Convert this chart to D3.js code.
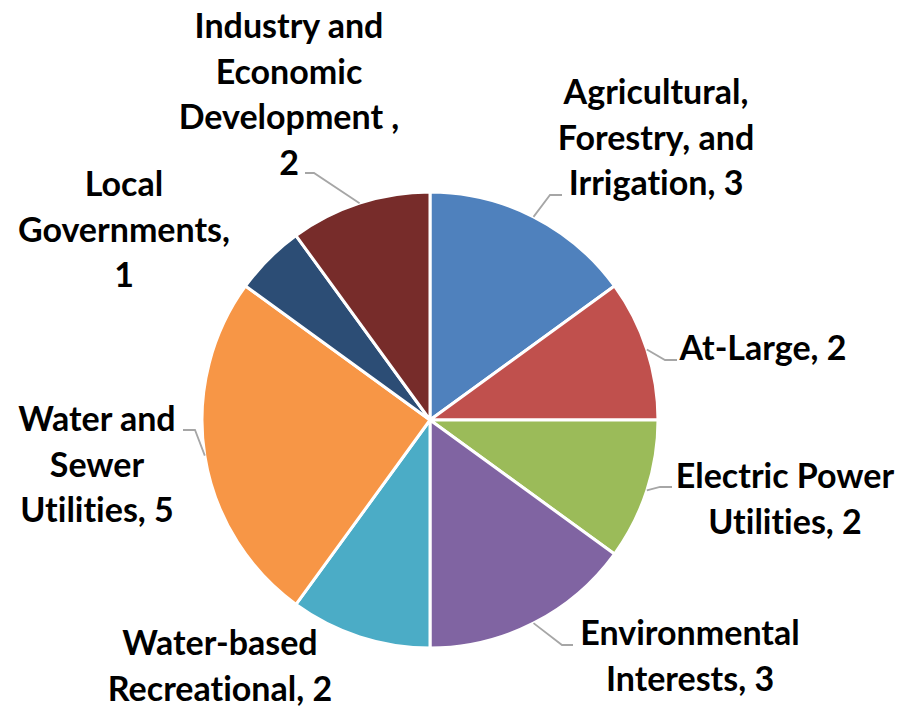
<!DOCTYPE html>
<html>
<head>
<meta charset="utf-8">
<script src="https://cdn.jsdelivr.net/npm/d3@7"></script>
<style>
  body { margin: 0; background: #fff; }
  text { font-family: Lato, "Open Sans", sans-serif; font-weight: 700; fill: #000; font-variant-ligatures: none; }
</style>
</head>
<body>
<svg id="pie" width="899" height="707"></svg>
<script>
// data
const categories = ["Agricultural, Forestry, and Irrigation", "At-Large", "Electric Power Utilities",
  "Environmental Interests", "Water-based Recreational", "Water and Sewer Utilities",
  "Local Governments", "Industry and Economic Development "];
const values = [3, 2, 2, 3, 2, 5, 1, 2];
const labelLines = [
  ["Agricultural,", "Forestry, and", "Irrigation, 3"],
  ["At-Large, 2"],
  ["Electric Power", "Utilities, 2"],
  ["Environmental", "Interests, 3"],
  ["Water-based", "Recreational, 2"],
  ["Water and", "Sewer", "Utilities, 5"],
  ["Local", "Governments,", "1"],
  ["Industry and", "Economic", "Development ,", "2"]
];
const colors = ["#4F81BD", "#C0504D", "#9BBB59", "#8064A2", "#4BACC6", "#F79646", "#2C4D75", "#772C2A"];

// label layout: center x, first baseline, leader elbow + end (null = no leader)
const labelPos = [
  {x: 656, y: 104, leader: [[550, 195], [562, 195]]},
  {x: 763, y: 360, leader: [[665, 360], [677, 360]]},
  {x: 785, y: 488, leader: [[660, 487], [672, 487]]},
  {x: 690, y: 645, leader: [[562, 645], [573, 645]]},
  {x: 220, y: 655, leader: null},
  {x: 97,  y: 431, leader: [[195, 430], [183, 430]]},
  {x: 124, y: 196, leader: null},
  {x: 289, y: 38,  leader: [[314, 173], [305, 173]]}
];

const cx = 430, cy = 420, radius = 228, lineH = 45.5;

const svg = d3.select("#pie");
const g = svg.append("g").attr("transform", "translate(" + cx + "," + cy + ")");

const pie = d3.pie().sort(null).value(d => d.value);
const arc = d3.arc().innerRadius(0).outerRadius(radius);

const data = categories.map((c, i) => ({name: c, value: values[i], i: i}));
const arcs = pie(data);

g.selectAll("path.slice")
  .data(arcs)
  .enter()
  .append("path")
  .attr("class", "slice")
  .attr("d", arc)
  .attr("fill", d => colors[d.data.i])
  .attr("stroke", "#fff")
  .attr("stroke-width", 3)
  .attr("stroke-linejoin", "round");

// leader lines
const line = d3.line();
arcs.forEach(d => {
  const lp = labelPos[d.data.i];
  if (!lp.leader) return;
  const a = (d.startAngle + d.endAngle) / 2;
  const p0 = [cx + radius * Math.sin(a), cy - radius * Math.cos(a)];
  svg.append("path")
    .attr("d", line([p0].concat(lp.leader)))
    .attr("fill", "none")
    .attr("stroke", "#a6a6a6")
    .attr("stroke-width", 1.8);
});

// labels
arcs.forEach(d => {
  const lp = labelPos[d.data.i];
  const t = svg.append("text")
    .attr("text-anchor", "middle")
    .attr("font-size", 34);
  labelLines[d.data.i].forEach((s, k) => {
    t.append("tspan").attr("x", lp.x).attr("y", lp.y + k * lineH).text(s);
  });
});
</script>
</body>
</html>
